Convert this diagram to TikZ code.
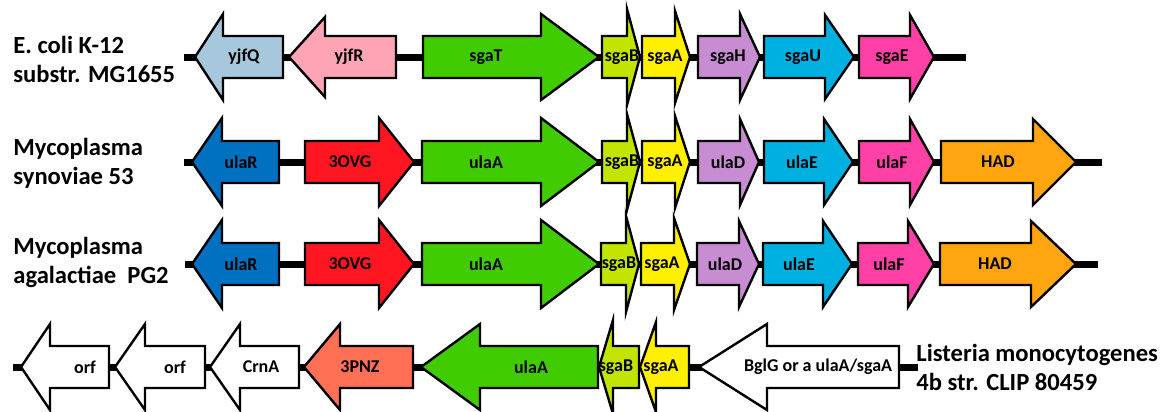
\documentclass[tikz,border=0pt]{standalone}
\usepackage{fontspec}
\setmainfont{Carlito}

\definecolor{yjfQblue}{RGB}{166,199,220}
\definecolor{yjfRpink}{RGB}{255,164,180}
\definecolor{sgaTgreen}{RGB}{64,204,0}
\definecolor{sgaBlime}{RGB}{195,228,0}
\definecolor{sgaAyellow}{RGB}{255,240,0}
\definecolor{sgaHlilac}{RGB}{199,140,210}
\definecolor{sgaUcyan}{RGB}{0,176,224}
\definecolor{sgaEmagenta}{RGB}{255,64,166}
\definecolor{HADorange}{RGB}{255,165,16}
\definecolor{ulaRblue}{RGB}{0,112,192}
\definecolor{OVGred}{RGB}{255,22,32}
\definecolor{PNZsalmon}{RGB}{255,112,85}

\begin{document}
\begin{tikzpicture}[x=0.5pt,y=-0.5pt,
  gene/.style={draw=black, line width=1.2pt, line join=miter},
  backbone/.style={line width=3.5pt},
  genelabel/.style={font=\fontsize{9}{10}\selectfont\bfseries, inner sep=0pt},
  species/.style={font=\fontsize{12.3}{14.5}\selectfont\bfseries, align=left, anchor=west, inner sep=0pt}]
\useasboundingbox (0,0) rectangle (1163,412);

%Names of the strains
\node[species] (ecoli) at (13,59){E. coli K-12\\substr. MG1655};
\node[species] (msyn) at (13,163){Mycoplasma\\synoviae 53};
\node[species] (magal) at (13,262){Mycoplasma\\agalactiae\ \ PG2};
\node[species] (lmono) at (916,367){Listeria monocytogenes\\4b str. CLIP 80459};

%Backbones
\coordinate (r1s) at (184,57);\coordinate (r1e) at (966,57);
\coordinate (r2s) at (184,162);\coordinate (r2e) at (1102,162);
\coordinate (r3s) at (185,264);\coordinate (r3e) at (1098,264);
\coordinate (r4s) at (13,367);\coordinate (r4e) at (918,367);
\draw[backbone] (r1s)--(r1e);
\draw[backbone] (r2s)--(r2e);
\draw[backbone] (r3s)--(r3e);
\draw[backbone] (r4s)--(r4e);

%E. coli K-12 substr. MG1655
\draw[gene, fill=yjfQblue] (283,36)--(223,36)--(223,14)--(195,57)--(223,100)--(223,78)--(283,78)--cycle;
\draw[gene, fill=yjfRpink] (396,36)--(325,36)--(325,17)--(289,57)--(325,97)--(325,78)--(396,78)--cycle;
\draw[gene, fill=sgaTgreen] (423,36)--(541,36)--(541,14)--(599,57)--(541,100)--(541,78)--(423,78)--cycle;
\draw[gene, fill=sgaBlime] (602,36)--(627,36)--(627,9)--(640,57)--(627,105)--(627,78)--(602,78)--cycle;
\draw[gene, fill=sgaAyellow] (642,36)--(675,36)--(675,11)--(690,57)--(675,103)--(675,78)--(642,78)--cycle;
\draw[gene, fill=sgaHlilac] (698,36)--(740,36)--(740,14)--(760,57)--(740,100)--(740,78)--(698,78)--cycle;
\draw[gene, fill=sgaUcyan] (764,36)--(825,36)--(825,15)--(854,57)--(825,99)--(825,78)--(764,78)--cycle;
\draw[gene, fill=sgaEmagenta] (859,36)--(910,36)--(910,15)--(934,57)--(910,99)--(910,78)--(859,78)--cycle;
\node[genelabel] (yjfQ) at (244,57){yjfQ};
\node[genelabel] (yjfR) at (349,57){yjfR};
\node[genelabel] (sgaT) at (486,57){sgaT};
\node[genelabel] (sgaB1) at (622,57){sgaB};
\node[genelabel] (sgaA1) at (665,57){sgaA};
\node[genelabel] (sgaH) at (728,57){sgaH};
\node[genelabel] (sgaU) at (803,57){sgaU};
\node[genelabel] (sgaE) at (892,57){sgaE};

%Mycoplasma synoviae 53
\draw[gene, fill=ulaRblue] (279,141)--(222,141)--(222,118)--(192,162)--(222,206)--(222,183)--(279,183)--cycle;
\draw[gene, fill=OVGred] (305,141)--(379,141)--(379,118)--(414,162)--(379,206)--(379,183)--(305,183)--cycle;
\draw[gene, fill=sgaTgreen] (422,141)--(541,141)--(541,118)--(599,162)--(541,206)--(541,183)--(422,183)--cycle;
\draw[gene, fill=sgaBlime] (602,141)--(627,141)--(627,114)--(640,162)--(627,210)--(627,183)--(602,183)--cycle;
\draw[gene, fill=sgaAyellow] (642,141)--(675,141)--(675,116)--(690,162)--(675,208)--(675,183)--(642,183)--cycle;
\draw[gene, fill=sgaHlilac] (698,141)--(740,141)--(740,119)--(759,162)--(740,205)--(740,183)--(698,183)--cycle;
\draw[gene, fill=sgaUcyan] (764,141)--(824,141)--(824,119)--(853,162)--(824,205)--(824,183)--(764,183)--cycle;
\draw[gene, fill=sgaEmagenta] (859,141)--(910,141)--(910,119)--(934,162)--(910,205)--(910,183)--(859,183)--cycle;
\draw[gene, fill=HADorange] (941,141)--(1033,141)--(1033,119)--(1076,162)--(1033,205)--(1033,183)--(941,183)--cycle;
\node[genelabel] (ulaR2) at (241,162){ulaR};
\node[genelabel] (OVG2) at (350,162){3OVG};
\node[genelabel] (ulaA2) at (486,162){ulaA};
\node[genelabel] (sgaB2) at (622,162){sgaB};
\node[genelabel] (sgaA2) at (665,162){sgaA};
\node[genelabel] (ulaD2) at (728,162){ulaD};
\node[genelabel] (ulaE2) at (802,162){ulaE};
\node[genelabel] (ulaF2) at (892,162){ulaF};
\node[genelabel] (HAD2) at (998,162){HAD};

%Mycoplasma agalactiae PG2
\draw[gene, fill=ulaRblue] (279,243)--(222,243)--(222,220)--(192,264)--(222,308)--(222,285)--(279,285)--cycle;
\draw[gene, fill=OVGred] (305,243)--(379,243)--(379,220)--(414,264)--(379,308)--(379,285)--(305,285)--cycle;
\draw[gene, fill=sgaTgreen] (422,243)--(541,243)--(541,220)--(599,264)--(541,308)--(541,285)--(422,285)--cycle;
\draw[gene, fill=sgaBlime] (601,243)--(626,243)--(626,216)--(639,264)--(626,312)--(626,285)--(601,285)--cycle;
\draw[gene, fill=sgaAyellow] (641,243)--(674,243)--(674,218)--(690,264)--(674,310)--(674,285)--(641,285)--cycle;
\draw[gene, fill=sgaHlilac] (697,243)--(739,243)--(739,221)--(759,264)--(739,307)--(739,285)--(697,285)--cycle;
\draw[gene, fill=sgaUcyan] (763,243)--(823,243)--(823,221)--(852,264)--(823,307)--(823,285)--(763,285)--cycle;
\draw[gene, fill=sgaEmagenta] (858,243)--(908,243)--(908,221)--(934,264)--(908,307)--(908,285)--(858,285)--cycle;
\draw[gene, fill=HADorange] (940,243)--(1031,243)--(1031,221)--(1076,264)--(1031,307)--(1031,285)--(940,285)--cycle;
\node[genelabel] (ulaR3) at (241,264){ulaR};
\node[genelabel] (OVG3) at (350,264){3OVG};
\node[genelabel] (ulaA3) at (486,264){ulaA};
\node[genelabel] (sgaB3) at (619,264){sgaB};
\node[genelabel] (sgaA3) at (662,264){sgaA};
\node[genelabel] (ulaD3) at (725,264){ulaD};
\node[genelabel] (ulaE3) at (799,264){ulaE};
\node[genelabel] (ulaF3) at (889,264){ulaF};
\node[genelabel] (HAD3) at (995,264){HAD};

%Listeria monocytogenes 4b str. CLIP 80459
\draw[gene, fill=white] (109,346)--(50,346)--(50,324)--(21,367)--(50,410)--(50,388)--(109,388)--cycle;
\draw[gene, fill=white] (205,346)--(145,346)--(145,324)--(115,367)--(145,410)--(145,388)--(205,388)--cycle;
\draw[gene, fill=white] (299,346)--(240,346)--(240,324)--(210,367)--(240,410)--(240,388)--(299,388)--cycle;
\draw[gene, fill=PNZsalmon] (413,346)--(340,346)--(340,324)--(304,367)--(340,410)--(340,388)--(413,388)--cycle;
\draw[gene, fill=sgaTgreen] (598,346)--(480,346)--(480,324)--(421,367)--(480,410)--(480,388)--(598,388)--cycle;
\draw[gene, fill=sgaBlime] (639,346)--(613,346)--(613,320)--(599,367)--(613,414)--(613,388)--(639,388)--cycle;
\draw[gene, fill=sgaAyellow] (689,346)--(656,346)--(656,322)--(640,367)--(656,412)--(656,388)--(689,388)--cycle;
\draw[gene, fill=white] (899,346)--(767,346)--(767,324)--(699,367)--(767,410)--(767,388)--(899,388)--cycle;
\node[genelabel] (orf1) at (85,367){orf};
\node[genelabel] (orf2) at (175,367){orf};
\node[genelabel] (CrnA) at (261,367){CrnA};
\node[genelabel] (PNZ4) at (360,367){3PNZ};
\node[genelabel] (ulaA4) at (531,367){ulaA};
\node[genelabel] (sgaB4) at (616,367){sgaB};
\node[genelabel] (sgaA4) at (661,367){sgaA};
\node[genelabel] (BglG) at (818,367){BglG or a ulaA/sgaA};

\end{tikzpicture}
\end{document}
